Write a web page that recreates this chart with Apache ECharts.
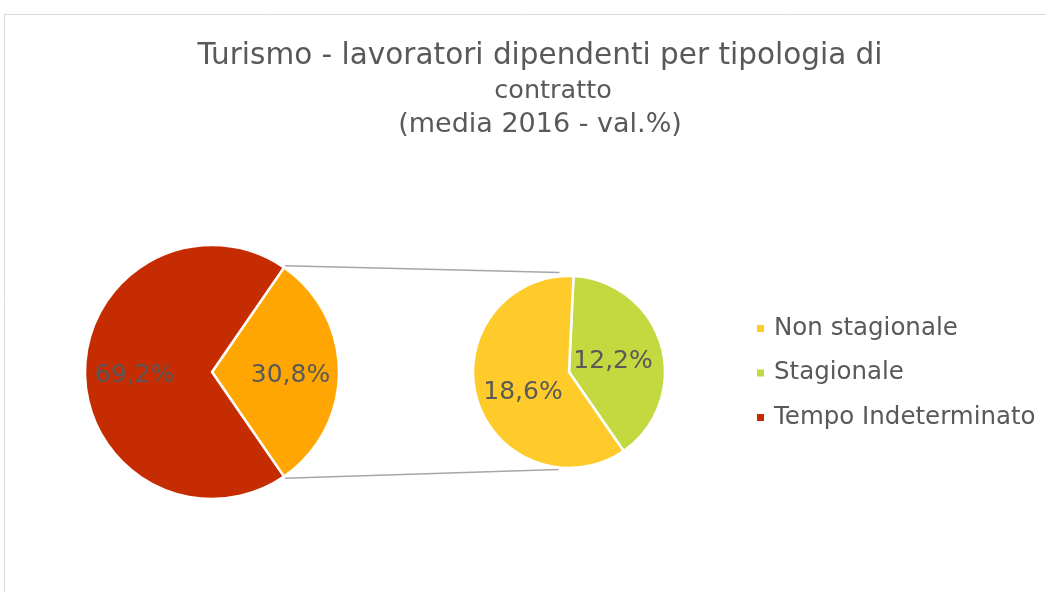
<!DOCTYPE html>
<html>
<head>
<meta charset="utf-8">
<script src="https://cdn.jsdelivr.net/npm/echarts@6/dist/echarts.min.js"></script>
<style>
  html, body { margin: 0; padding: 0; background: #fff; }
  #main { width: 1046px; height: 592px; }
</style>
</head>
<body>
<div id="main"></div>
<script>
// main pie: the "other" slice is split in the second pie
const mainNames = ['Tempo Determinato', 'Tempo Indeterminato'];
const mainValues = [30.8, 69.2];
const subNames = ['Stagionale', 'Non stagionale'];
const subValues = [12.2, 18.6];
const legendNames = ['Non stagionale', 'Stagionale', 'Tempo Indeterminato'];

const colors = {
  'Tempo Determinato': '#FFA602',
  'Tempo Indeterminato': '#C52C02',
  'Stagionale': '#C4D840',
  'Non stagionale': '#FFCB2B'
};
// small nudges so labels sit where Excel puts them
const labelNudge = {
  'Tempo Determinato': [12, 3],
  'Tempo Indeterminato': [-11, 3],
  'Stagionale': [-5, 4],
  'Non stagionale': [3, 6]
};

const fmt = v => v.toFixed(1).replace('.', ',') + '%';

const mainC = [212, 372], mainR = 127;
const subC = [569, 372], subR = 96;
const mainTotal = mainValues.reduce((a, b) => a + b, 0);
const mainStart = mainValues[0] / mainTotal * 360 / 2;

const toData = (names, values) => names.map((n, i) => ({
  name: n,
  value: values[i],
  itemStyle: { color: colors[n] },
  label: { offset: labelNudge[n] }
}));

// connector lines from the split slice corners to the second pie
const rad = d => d * Math.PI / 180;
const pt = (c, r, a) => [c[0] + r * Math.cos(rad(a)), c[1] - r * Math.sin(rad(a))];
const p1 = pt(mainC, mainR + 2, mainStart), q1 = pt(subC, subR + 4, 95.5);
const p2 = pt(mainC, mainR + 2, -mainStart), q2 = pt(subC, subR + 2, -96);

const pieLabel = {
  position: 'inside',
  formatter: p => fmt(p.value),
  fontSize: 25,
  color: '#595959'
};

const chart = echarts.init(document.getElementById('main'));
chart.setOption({
  animation: false,
  textStyle: { fontFamily: 'DejaVu Sans' },
  title: {
    text: '{a|Turismo - lavoratori dipendenti per tipologia di}\n{b|contratto}',
    subtext: '(media 2016 - val.%)',
    left: 535,
    top: 34,
    textAlign: 'center',
    itemGap: 8,
    textStyle: {
      fontWeight: 'normal',
      color: '#595959',
      rich: {
        a: { fontSize: 29.5, lineHeight: 35, color: '#595959' },
        b: { fontSize: 25.5, lineHeight: 35, color: '#595959', padding: [0, 0, 0, 26] }
      }
    },
    subtextStyle: { fontSize: 27, lineHeight: 30, color: '#595959' }
  },
  legend: {
    orient: 'vertical',
    left: 750,
    top: 311,
    data: legendNames,
    icon: 'rect',
    itemWidth: 9,
    itemHeight: 9,
    itemGap: 19.5,
    selectedMode: false,
    textStyle: { fontSize: 24.5, lineHeight: 25, color: '#595959', padding: [0, 0, 0, 4] }
  },
  graphic: [
    { type: 'rect', shape: { x: 4.5, y: 14.5, width: 1200, height: 800 },
      style: { fill: 'none', stroke: '#d9d9d9', lineWidth: 1 }, silent: true },
    { type: 'line', shape: { x1: p1[0], y1: p1[1], x2: q1[0], y2: q1[1] },
      style: { stroke: '#a6a6a6', lineWidth: 1.5 }, silent: true },
    { type: 'line', shape: { x1: p2[0], y1: p2[1], x2: q2[0], y2: q2[1] },
      style: { stroke: '#a6a6a6', lineWidth: 1.5 }, silent: true }
  ],
  series: [
    {
      type: 'pie',
      center: mainC,
      radius: mainR,
      startAngle: mainStart,
      clockwise: true,
      avoidLabelOverlap: false,
      label: pieLabel,
      labelLine: { show: false },
      itemStyle: { borderColor: '#fff', borderWidth: 2.5 },
      emphasis: { disabled: true },
      data: toData(mainNames, mainValues)
    },
    {
      type: 'pie',
      center: subC,
      radius: subR,
      startAngle: 87.3,
      clockwise: true,
      avoidLabelOverlap: false,
      label: pieLabel,
      labelLine: { show: false },
      itemStyle: { borderColor: '#fff', borderWidth: 2.5 },
      emphasis: { disabled: true },
      data: toData(subNames, subValues)
    }
  ]
});
</script>
</body>
</html>
